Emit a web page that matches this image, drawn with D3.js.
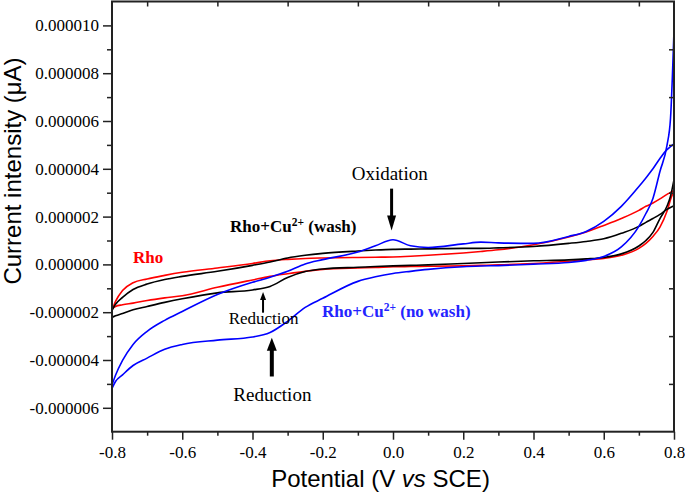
<!DOCTYPE html>
<html><head><meta charset="utf-8">
<script src="https://cdn.jsdelivr.net/npm/d3@7"></script>
<style>body{margin:0;background:#fff;} svg{display:block;}</style>
</head><body><svg id="c" width="685" height="493"></svg>
<script>
// Potential grid (V vs SCE)
const potential = [-0.8,-0.79,-0.77,-0.74,-0.7,-0.65,-0.6,-0.5,-0.4,-0.35,-0.3,-0.25,-0.2,-0.1,-0.05,0,0.05,0.1,0.2,0.25,0.3,0.4,0.5,0.55,0.6,0.65,0.7,0.72,0.74,0.76,0.78,0.79,0.8];
// Currents in units of 1e-6 A
const rhoForward = [-1.92,-1.55,-1.09,-0.77,-0.61,-0.46,-0.33,-0.15,0.04,0.15,0.21,0.25,0.27,0.29,0.30,0.31,0.34,0.38,0.48,0.54,0.61,0.82,1.15,1.36,1.63,1.92,2.26,2.43,2.57,2.74,2.93,3.01,3.10];
const rhoReverse = [-1.85,-1.76,-1.69,-1.62,-1.51,-1.40,-1.31,-0.96,-0.65,-0.50,-0.39,-0.29,-0.21,-0.15,-0.13,-0.10,-0.09,-0.08,-0.06,-0.04,-0.02,0.04,0.13,0.19,0.25,0.38,0.67,0.88,1.17,1.56,2.22,2.70,3.10];
const washForward = [-1.92,-1.67,-1.38,-1.05,-0.82,-0.63,-0.50,-0.29,-0.04,0.10,0.27,0.38,0.46,0.56,0.60,0.63,0.64,0.65,0.67,0.67,0.69,0.75,0.88,0.96,1.07,1.30,1.59,1.76,1.92,2.09,2.30,2.38,2.45];
const washReverse = [-2.22,-2.15,-2.05,-1.90,-1.76,-1.59,-1.44,-1.19,-1.07,-0.92,-0.55,-0.30,-0.19,-0.12,-0.09,-0.06,-0.04,-0.02,0.04,0.07,0.10,0.15,0.19,0.23,0.29,0.44,0.77,1.00,1.34,1.92,2.43,2.85,3.55];
const noWashForward = [-5.05,-4.64,-4.02,-3.35,-2.80,-2.34,-1.97,-1.26,-0.75,-0.54,-0.29,0.02,0.20,0.52,0.78,1.03,0.78,0.71,0.86,0.93,0.90,0.88,1.17,1.38,1.80,2.43,3.26,3.62,4.00,4.43,4.80,4.93,5.04];
const noWashReverse = [-5.19,-4.90,-4.62,-4.23,-3.92,-3.55,-3.35,-3.17,-3.04,-2.85,-2.38,-1.80,-1.42,-0.71,-0.52,-0.38,-0.29,-0.21,-0.10,-0.07,-0.05,0.01,0.08,0.17,0.33,0.73,1.59,2.13,2.76,3.89,4.98,6.10,9.80];

const xTicks = [-0.8,-0.6,-0.4,-0.2,0,0.2,0.4,0.6,0.8];
const xTickLabels = ["-0.8","-0.6","-0.4","-0.2","0.0","0.2","0.4","0.6","0.8"];
const xMinor = [-0.7,-0.5,-0.3,-0.1,0.1,0.3,0.5,0.7];
const yTicks = [-6,-4,-2,0,2,4,6,8,10];
const yTickLabels = ["-0.000006","-0.000004","-0.000002","0.000000","0.000002","0.000004","0.000006","0.000008","0.000010"];
const yMinor = [-5,-3,-1,1,3,5,7,9];

const svg = d3.select("#c");
const x = d3.scaleLinear().domain([-0.8,0.8]).range([112,674]);
const y = d3.scaleLinear().domain([-7,11]).range([431.7,1.5]);
const serif = "'Liberation Serif','Times New Roman',serif";
const sans = "'Liberation Sans',Arial,sans-serif";

svg.append("defs").append("clipPath").attr("id","clip").append("rect")
  .attr("x",x(-0.8)).attr("y",y(11)).attr("width",x(0.8)-x(-0.8)).attr("height",y(-7)-y(11));

const series = [
  {f:rhoForward, r:rhoReverse, color:"#ff0000"},
  {f:washForward, r:washReverse, color:"#000000"},
  {f:noWashForward, r:noWashReverse, color:"#0000ff"}
];
const line = d3.line().x(d=>x(d[0])).y(d=>y(d[1])).curve(d3.curveMonotoneX);
const g = svg.append("g").attr("clip-path","url(#clip)");
series.forEach(s=>{
  [s.f, s.r].forEach(arr=>{
    g.append("path").attr("d", line(potential.map((p,i)=>[p,arr[i]])))
      .attr("fill","none").attr("stroke",s.color).attr("stroke-width",1.6);
  });
});

function styleAxis(sel){
  sel.attr("font-family",serif).attr("font-size",17);
  sel.select(".domain").remove();
  sel.selectAll(".tick line").attr("stroke","#222").attr("stroke-width",1.5);
  sel.selectAll(".tick text").attr("fill","#000").style("font-family",serif).style("font-size","17px");
}
svg.append("g").attr("transform",`translate(0,${y(-7)})`)
  .call(d3.axisBottom(x).tickValues(xTicks).tickFormat((d,i)=>xTickLabels[i]).tickSize(8).tickPadding(6)).call(styleAxis);
svg.append("g").attr("transform",`translate(0,${y(-7)})`)
  .call(d3.axisBottom(x).tickValues(xMinor).tickFormat("").tickSize(4)).call(styleAxis);
svg.append("g").attr("transform",`translate(${x(-0.8)},0)`)
  .call(d3.axisLeft(y).tickValues(yTicks).tickFormat((d,i)=>yTickLabels[i]).tickSize(9).tickPadding(4)).call(styleAxis);
svg.append("g").attr("transform",`translate(${x(-0.8)},0)`)
  .call(d3.axisLeft(y).tickValues(yMinor).tickFormat("").tickSize(5)).call(styleAxis);
svg.append("g").attr("transform",`translate(0,${y(11)})`)
  .call(d3.axisTop(x).tickValues(xMinor).tickFormat("").tickSize(-5)).call(styleAxis);
svg.append("g").attr("transform",`translate(${x(0.8)},0)`)
  .call(d3.axisRight(y).tickValues(yMinor).tickFormat("").tickSize(-5)).call(styleAxis);

svg.append("rect").attr("x",x(-0.8)).attr("y",y(11)).attr("width",x(0.8)-x(-0.8)).attr("height",y(-7)-y(11))
  .attr("fill","none").attr("stroke","#222").attr("stroke-width",2);

// Axis titles
const xt = svg.append("text").attr("x",380.5).attr("y",487).attr("text-anchor","middle")
  .style("font-family",sans).style("font-size","24px").attr("fill","#000");
xt.append("tspan").text("Potential (V ");
xt.append("tspan").style("font-style","italic").text("vs");
xt.append("tspan").text(" SCE)");
svg.append("text").attr("transform","translate(20.5,171) rotate(-90)").attr("text-anchor","middle")
  .style("font-family",sans).style("font-size","24px").attr("fill","#000").text("Current intensity (μA)");

// Labels
svg.append("text").attr("x",133).attr("y",263).attr("fill","#ff0000")
  .style("font-family",serif).style("font-size","17px").style("font-weight","bold").text("Rho");
function cuLabel(xp,yp,suffix,color){
  const t = svg.append("text").attr("x",xp).attr("y",yp).attr("fill",color)
    .style("font-family",serif).style("font-size","17px").style("font-weight","bold");
  t.append("tspan").text("Rho+Cu");
  t.append("tspan").attr("dy",-6).style("font-size","11.5px").text("2+");
  t.append("tspan").attr("dy",6).text(" "+suffix);
}
cuLabel(230,232,"(wash)","#000");
cuLabel(322,317,"(no wash)","#2424ff");

svg.append("text").attr("x",351.7).attr("y",179.5).style("font-family",serif).style("font-size","19px").attr("fill","#000").text("Oxidation");
svg.append("text").attr("x",228.7).attr("y",323.5).style("font-family",serif).style("font-size","17px").attr("fill","#000").text("Reduction");
svg.append("text").attr("x",233.3).attr("y",401).style("font-family",serif).style("font-size","19px").attr("fill","#000").text("Reduction");

// Arrows: (potential, from current, to current, shaft width, head length, head width)
function arrow(v, i0, i1, sw, hl, hw){
  const xp = x(v), y0 = y(i0), y1 = y(i1);
  const dir = Math.sign(y1 - y0);
  svg.append("line").attr("x1",xp).attr("x2",xp).attr("y1",y0).attr("y2",y1 - dir*hl*0.8)
    .attr("stroke","#000").attr("stroke-width",sw);
  svg.append("path").attr("d",`M${xp},${y1} L${xp-hw/2},${y1-dir*hl} L${xp+hw/2},${y1-dir*hl} Z`).attr("fill","#000");
}
arrow(-0.004, 3.17, 1.42, 3, 15, 9);
arrow(-0.370, -2.02, -1.16, 2, 8, 6);
arrow(-0.345, -4.69, -3.07, 4, 13, 10);
</script></body></html>
